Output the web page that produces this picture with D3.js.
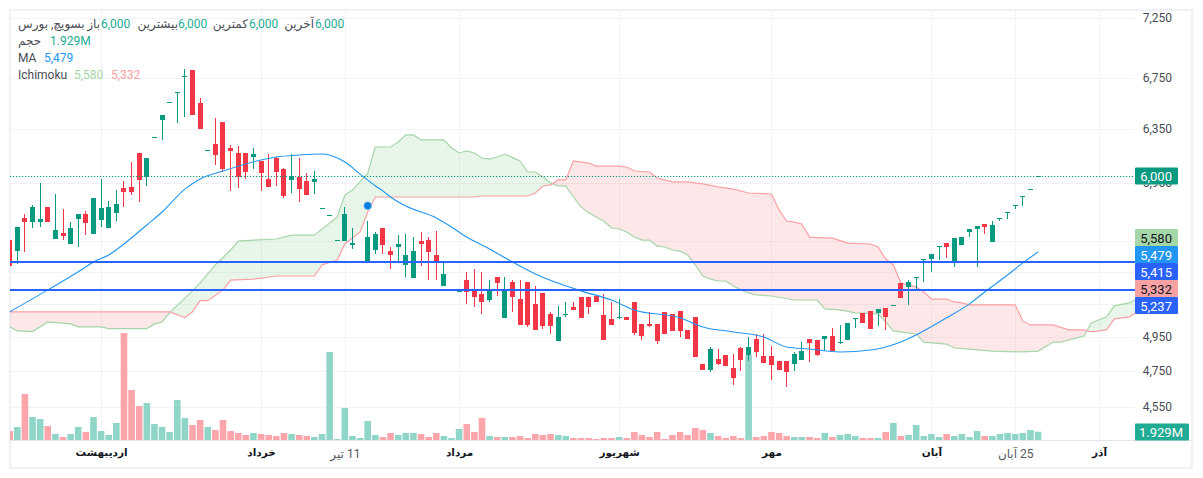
<!DOCTYPE html>
<html>
<head>
<meta charset="utf-8">
<style>
	body{
		margin: 0;
		background: white;
	}
	svg{
		display: block;
		font-family: Roboto, "DejaVu Sans", sans-serif;
	}
</style>
</head>
<body>
<script src="https://cdnjs.cloudflare.com/ajax/libs/d3/7.8.5/d3.min.js" charset="utf-8"></script>
<svg width="1203" height="478"></svg>
<script>
	// daily candles, oldest first
	var opens = [5557,5484,5706,5678,5678,5782,5564,5604,5531,5699,
		5734,5597,5692,5638,5741,5915,5922,6168,5993,6288,
		6416,6556,6635,6764,6812,6548,6190,6235,6401,6205,
		6168,6168,6138,6109,5979,6131,6050,5972,5993,5965,
		5958,5775,5727,5557,5550,5524,5420,5413,5491,5638,
		5484,5511,5394,5310,5550,5557,5458,5260,5241,5229,
		5297,5229,5210,5172,5316,5063,5285,5178,5285,5148,
		5216,5087,4924,5081,5130,5191,5191,5197,5081,5057,
		5069,5069,5160,5026,5026,5026,5099,5087,5105,4990,
		5069,4790,4756,4819,4842,4767,4883,4842,4936,4836,
		4836,4807,4807,4790,4813,4936,4930,4936,4954,4912,
		4930,5057,5093,5105,5093,5123,5142,5279,5254,5316,
		5432,5432,5517,5537,5420,5524,5611,5631,5665,5544,
		5706,5747,5795,5858,5907,6000];
	var highs = [5557,5645,5734,5795,5951,5782,5872,5768,5678,5734,
		5754,5844,5979,5823,5900,5965,6101,6168,6131,6288,
		6455,6556,6635,6820,6812,6588,6190,6431,6401,6227,
		6220,6168,6205,6109,6160,6138,6057,6160,6131,6021,
		6036,5775,5727,5557,5782,5638,5420,5685,5611,5638,
		5511,5590,5597,5577,5611,5577,5617,5420,5241,5229,
		5348,5368,5348,5297,5316,5316,5297,5297,5285,5260,
		5216,5099,5136,5160,5160,5191,5191,5197,5210,5160,
		5178,5069,5160,5026,5099,5026,5099,5087,5105,4990,
		5069,4790,4889,4877,4842,4848,4889,4948,4966,4966,
		4895,4807,4807,4860,4918,4936,4930,4954,5002,5020,
		5032,5063,5093,5105,5117,5123,5142,5279,5297,5316,
		5432,5465,5517,5537,5570,5577,5631,5651,5665,5685,
		5706,5747,5795,5858,5907,6000];
	var lows = [5387,5400,5478,5638,5645,5678,5564,5557,5531,5511,
		5590,5597,5645,5638,5685,5782,5865,5816,5929,6288,
		6265,6556,6393,6439,6455,6348,6190,6079,6029,5893,
		5915,5979,6050,5893,5922,5929,5844,5879,5816,5865,
		5872,5775,5727,5557,5550,5498,5420,5413,5465,5465,
		5368,5413,5316,5310,5387,5297,5297,5260,5241,5229,
		5148,5130,5087,5160,5197,5063,5099,5020,5008,4990,
		4996,4966,4924,5069,5111,5063,5087,5160,4930,5020,
		5057,5050,4960,4930,5008,4906,4966,4984,4948,4936,
		4831,4756,4745,4784,4779,4671,4750,4807,4831,4796,
		4699,4756,4660,4750,4813,4802,4836,4865,4865,4906,
		4930,5002,5032,4996,5014,4990,5142,5185,5142,5235,
		5285,5348,5426,5439,5381,5524,5577,5381,5597,5544,
		5685,5699,5768,5788,5907,6000];
	var closes = [5387,5645,5678,5782,5699,5678,5624,5584,5638,5734,
		5672,5844,5775,5782,5802,5886,5886,5972,6131,6288,
		6455,6556,6635,6764,6455,6348,6190,6153,6050,6183,
		5993,6029,6160,6021,5922,6029,5858,6000,5907,5865,
		5979,5775,5727,5557,5734,5537,5420,5577,5597,5524,
		5458,5531,5458,5484,5531,5478,5420,5336,5241,5229,
		5222,5191,5160,5235,5279,5241,5191,5020,5020,4990,
		5014,5014,5069,5087,5111,5063,5130,5160,4930,5020,
		5069,5050,4972,4954,5014,4924,4966,4984,4984,4936,
		4831,4756,4877,4790,4779,4711,4813,4889,4860,4796,
		4784,4756,4745,4848,4865,4912,4842,4954,4865,4918,
		5032,5063,5032,4996,5117,5069,5142,5185,5285,5316,
		5432,5465,5517,5511,5570,5577,5631,5651,5645,5658,
		5706,5747,5795,5858,5907,6000];
	// volume in millions
	var volumes = [2.08,3.01,10.65,5.33,4.86,3.24,1.39,0.69,1.39,3.01,
		1.85,5.33,2.08,1.16,3.94,24.78,11.58,7.87,8.57,3.70,
		3.01,1.85,9.26,5.09,3.47,4.63,3.01,2.31,4.63,2.08,
		1.62,1.16,1.62,1.39,1.16,0.93,1.62,1.39,1.16,0.93,
		0.69,1.39,20.38,0.23,7.41,0.93,0.46,4.40,1.16,0.69,
		1.62,1.16,1.62,1.62,1.39,0.69,1.62,0.93,0.46,2.55,
		3.70,1.85,5.09,0.93,0.69,0.69,0.69,0.93,0.46,1.39,
		1.16,1.39,1.16,0.93,0.46,0.46,0.46,0.23,0.46,0.46,
		0.69,0.46,1.85,1.16,0.69,1.85,0.23,1.16,1.85,1.16,
		2.78,2.31,1.62,0.93,0.46,0.93,0.46,19.68,0.69,0.93,
		1.85,1.62,0.93,0.69,0.69,0.69,0.46,1.62,0.69,1.16,
		1.39,0.93,0.46,0.46,0.46,1.85,3.94,0.93,1.16,3.47,
		0.93,1.39,0.69,1.39,0.93,1.39,0.69,2.08,0.93,0.93,
		1.39,1.62,1.39,1.62,2.31,1.929];

	var maIdx = [0,5,10,11,13,15,18,20,23,25,28,33,35,38,41,43,44,46,48,49,50,52,56,58,60,63,66,69,75,79,82,88,91,95,99,102,105,109,113,115,117,119,123,126,128,131,133,135];
	var maVals = [5099,5235,5381,5413,5458,5531,5658,5747,5907,5979,6036,6116,6138,6153,6160,6131,6101,6014,5929,5893,5851,5788,5706,5645,5577,5498,5413,5336,5229,5172,5111,5063,5008,4978,4948,4889,4877,4860,4871,4889,4918,4960,5063,5148,5222,5329,5407,5478];

	var spanAIdx = [0,1,3,5,8,9,12,13,18,19,20,21,24,25,27,29,30,32,35,37,40,43,44,45,47,48,50,51,52,53,54,57,58,59,60,61,62,63,64,65,67,68,69,70,71,72,73,74,75,76,77,78,79,80,81,82,83,84,85,86,87,88,89,90,91,92,93,94,95,96,97,98,100,103,106,107,109,111,114,115,116,119,120,123,124,126,129,133,135,137,138,141,142,144,145,147,148];
	var spanAVals = [5010,4984,4980,5038,5026,5008,5008,4998,4998,5026,5038,5095,5229,5279,5394,5491,5550,5557,5564,5590,5590,5713,5865,5900,6021,6212,6212,6250,6303,6303,6265,6265,6205,6168,6183,6168,6131,6123,6138,6160,6109,6029,6029,5993,5951,5929,5929,5851,5782,5741,5713,5685,5638,5631,5611,5577,5557,5557,5517,5511,5491,5484,5458,5394,5323,5303,5291,5291,5260,5235,5216,5204,5197,5172,5172,5117,5111,5093,5087,5038,4984,4966,4918,4906,4883,4877,4865,4860,4865,4918,4918,4954,5032,5069,5136,5154,5178];
	var spanBIdx = [0,21,23,24,25,26,28,29,32,35,40,41,43,44,46,47,48,61,62,68,69,70,71,72,73,74,75,76,77,80,81,82,84,85,87,89,91,93,95,97,100,101,102,103,104,105,108,110,113,114,115,116,117,118,119,120,121,123,124,125,126,132,133,134,137,139,141,142,144,145,147,148];
	var spanBVals = [5099,5099,5065,5100,5168,5168,5235,5297,5303,5323,5323,5394,5426,5531,5611,5747,5851,5851,5858,5858,5879,5929,5936,5972,5972,6109,6101,6094,6072,6072,6065,6036,6029,5986,5958,5958,5944,5922,5907,5879,5872,5761,5685,5678,5665,5577,5570,5537,5531,5511,5432,5394,5279,5266,5254,5222,5178,5178,5160,5154,5142,5142,5044,5020,5020,4990,4990,4978,4990,5057,5069,5099];

	var gridPrices = [7250,6750,6350,5950,5550,5350,5150,4950,4750,4550];
	var priceTicks = [7250,6750,6350,5950,4950,4750,4550];
	var timeTickIdx = [12,33,44,59,80,100,121,132,143];
	var timeTickLabels = ["اردیبهشت","خرداد","11 تیر","مرداد","شهریور","مهر","آبان","25 آبان","آذر"];

	var lastPrice = 6000;
	var lastVolume = 1.929;
	var levels = [5415,5237];
	var markerIdx = 47;
	var markerPrice = 5790;
	var sideTags = [
		["5,580", "#a5d6a7", "#131722"],
		["5,479", "#2196f3", "#ffffff"],
		["5,415", "#2962ff", "#ffffff"],
		["5,332", "#faa1a4", "#131722"],
		["5,237", "#2962ff", "#ffffff"]
	];

	var GREEN = "#089981", RED = "#f23645", BLUE = "#2196f3";
	var left = 10, right = 1135, top_ = 11, baseline = 440;

	var x = d3.scaleLinear().domain([0,143]).range([9.7,1099]);
	var y = d3.scaleLog().domain([7250,4550]).range([18,407]);
	var v = d3.scaleLinear().domain([0,24.78]).range([baseline,333]);

	var svg = d3.select("svg");
	var defs = svg.append("defs");

	defs.append("clipPath").attr("id","plot").append("rect")
		.attr("x",left).attr("y",top_).attr("width",right-left).attr("height",baseline-top_);

	// frame
	svg.append("rect").attr("x",10).attr("y",10).attr("width",1182).attr("height",458)
		.attr("fill","none").attr("stroke","#f0f1f6").attr("stroke-width",2);

	// grid, taken from the axes
	svg.append("g").attr("transform","translate("+right+",0)")
		.call(d3.axisLeft(y).tickValues(gridPrices).tickSize(right-left).tickFormat(""));
	svg.append("g").attr("transform","translate(0,"+baseline+")")
		.call(d3.axisBottom(x).tickValues(timeTickIdx).tickSize(-(baseline-top_)).tickFormat(""));
	svg.selectAll(".domain").remove();
	svg.selectAll(".tick line").attr("stroke","#f1f2f5").attr("shape-rendering","crispEdges");

	svg.append("line").attr("x1",left).attr("x2",1192).attr("y1",baseline+.5).attr("y2",baseline+.5)
		.attr("stroke","#e3e5ec");

	var plot = svg.append("g").attr("clip-path","url(#plot)");

	// ichimoku cloud
	var spanA = spanAIdx.map(function(d,i){ return [d, spanAVals[i]]; });
	var spanB = spanBIdx.map(function(d,i){ return [d, spanBVals[i]]; });
	var seg = d3.line().x(function(d){ return x(d[0]); }).y(function(d){ return y(d[1]); });
	var aboveB = d3.area().x(function(d){ return x(d[0]); }).y0(top_).y1(function(d){ return y(d[1]); });
	var belowB = d3.area().x(function(d){ return x(d[0]); }).y0(baseline).y1(function(d){ return y(d[1]); });
	defs.append("clipPath").attr("id","aboveB").append("path").attr("d",aboveB(spanB));
	defs.append("clipPath").attr("id","belowB").append("path").attr("d",belowB(spanB));
	var cloud = seg(spanA.concat(spanB.slice().reverse()))+"Z";
	plot.append("g").attr("clip-path","url(#aboveB)").append("path").attr("d",cloud).attr("fill","#a5d6a7").attr("fill-opacity",.25);
	plot.append("g").attr("clip-path","url(#belowB)").append("path").attr("d",cloud).attr("fill","#faa1a4").attr("fill-opacity",.25);
	plot.append("path").attr("d",seg(spanA)).attr("fill","none").attr("stroke","#a5d6a7").attr("stroke-width",1.2);
	plot.append("path").attr("d",seg(spanB)).attr("fill","none").attr("stroke","#faa1a4").attr("stroke-width",1.2);

	// volume
	plot.selectAll("rect.vol").data(volumes).enter().append("rect")
		.attr("class","vol")
		.attr("x",function(d,i){ return x(i)-3.3; })
		.attr("width",6.6)
		.attr("y",function(d){ return v(d); })
		.attr("height",function(d){ return baseline-v(d); })
		.attr("fill",function(d,i){ return closes[i]>=opens[i] ? "#8fd5c8" : "#fca6ac"; });

	// candles
	var candle = plot.selectAll("g.candle").data(opens).enter().append("g").attr("class","candle")
		.attr("fill",function(d,i){ return closes[i]>=opens[i] ? GREEN : RED; });
	candle.append("rect")
		.attr("x",function(d,i){ return Math.round(x(i)-.5); })
		.attr("width",1)
		.attr("y",function(d,i){ return Math.round(y(highs[i])); })
		.attr("height",function(d,i){ return Math.round(y(lows[i]))-Math.round(y(highs[i])); });
	candle.append("rect")
		.attr("x",function(d,i){ return Math.round(x(i)-.5)-2; })
		.attr("width",5)
		.attr("y",function(d,i){ return Math.round(y(Math.max(d,closes[i]))); })
		.attr("height",function(d,i){
			return Math.max(1, Math.round(y(Math.min(d,closes[i])))-Math.round(y(Math.max(d,closes[i]))));
		});
	candle.selectAll("rect").attr("shape-rendering","crispEdges");

	// moving average
	var maLine = d3.line().curve(d3.curveMonotoneX)
		.x(function(d){ return x(d); })
		.y(function(d,i){ return y(maVals[i]); });
	plot.append("path").attr("d",maLine(maIdx)).attr("fill","none").attr("stroke",BLUE).attr("stroke-width",1.1);

	// last price and drawn levels
	var lastY = Math.round(y(lastPrice))+.5;
	plot.append("line").attr("x1",left).attr("x2",right).attr("y1",lastY).attr("y2",lastY)
		.attr("stroke",GREEN).attr("stroke-width",1.2).attr("stroke-dasharray","1.2 1.8");
	plot.selectAll("line.level").data(levels).enter().append("line").attr("class","level")
		.attr("x1",left).attr("x2",right)
		.attr("y1",function(d){ return Math.round(y(d)); }).attr("y2",function(d){ return Math.round(y(d)); })
		.attr("stroke","#2962ff").attr("stroke-width",2);
	plot.append("circle").attr("cx",x(markerIdx)).attr("cy",y(markerPrice)).attr("r",4)
		.attr("fill","#0a7fe0").attr("stroke","#bcdcf7").attr("stroke-width",.6);

	// price axis
	var priceAxis = svg.append("g").attr("transform","translate(1172,0)")
		.call(d3.axisLeft(y).tickValues(priceTicks).tickSize(0).tickPadding(0).tickFormat(d3.format(",")));
	priceAxis.select(".domain").remove();
	priceAxis.selectAll("text").attr("fill","#4a4d55").style("font","12px Roboto");

	// time axis
	var timeAxis = svg.append("g").attr("transform","translate(0,440)")
		.call(d3.axisBottom(x).tickValues(timeTickIdx).tickSize(0).tickPadding(9)
			.tickFormat(function(d,i){ return timeTickLabels[i]; }));
	timeAxis.select(".domain").remove();
	timeAxis.selectAll("text")
		.attr("fill",function(d,i){ return /\d/.test(timeTickLabels[i]) ? "#555861" : "#131722"; })
		.style("direction","rtl")
		.style("font-family","Roboto, 'DejaVu Sans', sans-serif")
		.style("font-size",function(d,i){ return /\d/.test(timeTickLabels[i]) ? "12px" : "10.5px"; })
		.style("font-weight",function(d,i){ return /\d/.test(timeTickLabels[i]) ? "normal" : "bold"; });

	// tags on the price scale
	function tag(cy, w, label, bg, fg){
		svg.append("rect").attr("x",right).attr("y",cy-8.5).attr("width",w).attr("height",17)
			.attr("rx",1).attr("fill",bg);
		svg.append("text").attr("x",right+w-6).attr("y",cy+.5).attr("dy",".35em").attr("text-anchor","end")
			.attr("fill",fg).style("font","13px Roboto").text(label);
	}
	tag(y(lastPrice), 43, d3.format(",")(lastPrice), GREEN, "#ffffff");
	sideTags.forEach(function(t,i){ tag(237.5+i*17, 43, t[0], t[1], t[2]); });
	tag(432, 54, d3.format(".3f")(lastVolume)+"M", "#22ab94", "#ffffff");

	// legend
	function legend(px, py, label, color, anchor){
		return svg.append("text").attr("x",px).attr("y",py).attr("fill",color)
			.attr("text-anchor",anchor || "start")
			.style("font","12px Roboto, 'DejaVu Sans', sans-serif").text(label);
	}
	var DARK = "#4a4d55", VAL = "#22ab94";
	legend(18,28,"بسویچ, بورس",DARK);
	legend(100,28,"باز",DARK,"end"); legend(101,28,"6,000",VAL);
	legend(178,28,"بیشترین",DARK,"end"); legend(178,28,"6,000",VAL);
	legend(248,28,"کمترین",DARK,"end"); legend(249,28,"6,000",VAL);
	legend(314,28,"آخرین",DARK,"end"); legend(315,28,"6,000",VAL);
	legend(18,45,"حجم",DARK); legend(50,45,"1.929M",VAL);
	legend(18,62,"MA",DARK); legend(44,62,"5,479",BLUE);
	legend(18,79,"Ichimoku",DARK); legend(74,79,"5,580","#a5d6a7"); legend(111,79,"5,332","#faa1a4");
</script>
</body>
</html>
